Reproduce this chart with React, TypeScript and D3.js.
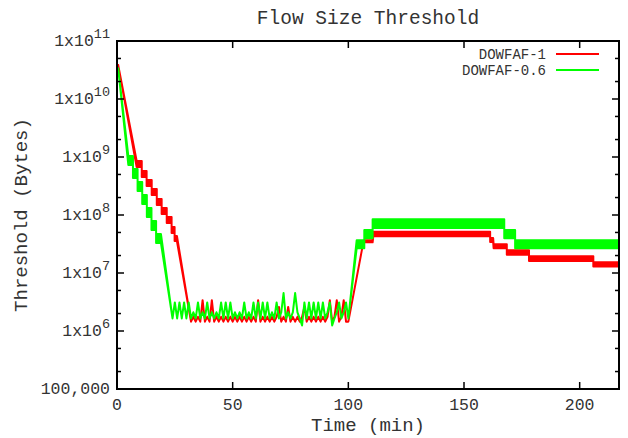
import React from 'react';
import * as d3 from 'd3';

// [minute, low, high] - low == high for plain line points,
// low < high where the threshold flickers fast enough to draw a solid band
type Sample = [number, number, number];

const xTicks = [0, 50, 100, 150, 200];
const yDecades = [1e5, 1e6, 1e7, 1e8, 1e9, 1e10, 1e11];
const yMinorFactors = [2, 5];
const seriesNames = ['DOWFAF-1', 'DOWFAF-0.6'];
const seriesColors = ['#ff0000', '#00ff00'];

// DOWFAF-1 (red)
const redDescent: Sample[] = [
  [0.5, 3.85e10, 3.85e10],
  [8.5, 6.73e8, 8.53e8], [10.7, 6.73e8, 8.53e8],
  [10.7, 4.52e8, 5.74e8], [12.8, 4.52e8, 5.74e8],
  [12.8, 3.16e8, 4.0e8], [15.0, 3.16e8, 4.0e8],
  [15.0, 2.21e8, 2.8e8], [17.2, 2.21e8, 2.8e8],
  [17.2, 1.49e8, 1.89e8], [19.3, 1.49e8, 1.89e8],
  [19.3, 1.04e8, 1.32e8], [21.5, 1.04e8, 1.32e8],
  [21.5, 7.3e7, 9.2e7], [23.6, 7.3e7, 9.2e7],
  [23.6, 4.9e7, 6.2e7], [24.9, 4.9e7, 6.2e7],
  [24.9, 3.56e7, 4.35e7], [25.9, 3.56e7, 4.35e7],
];
const redNoiseStart = 32;
const redNoise = [
  1.45e6, 1.75e6, 1.45e6, 1.75e6, 1.45e6, 3.4e6, 1.45e6, 1.75e6, 1.45e6, 3.4e6,
  1.45e6, 1.75e6, 1.45e6, 1.75e6, 1.45e6, 1.75e6, 1.45e6, 1.75e6, 1.45e6, 1.75e6,
  1.45e6, 1.75e6, 1.45e6, 1.75e6, 1.45e6, 1.75e6, 1.45e6, 1.75e6, 1.45e6, 3.4e6,
  1.45e6, 1.75e6, 1.45e6, 1.75e6, 1.45e6, 1.75e6, 1.45e6, 1.75e6, 2.6e6, 1.45e6,
  1.75e6, 1.45e6, 2.6e6, 1.45e6, 1.75e6, 1.45e6, 1.75e6, 1.45e6, 1.75e6, 2.6e6,
  1.45e6, 1.75e6, 1.45e6, 1.75e6, 1.45e6, 1.75e6, 1.45e6, 1.75e6, 1.45e6, 1.75e6,
  3.4e6, 1.45e6, 1.75e6, 3.4e6, 1.45e6, 1.75e6, 3.4e6, 1.45e6, 1.45e6,
];
const redPlateau: Sample[] = [
  [106.5, 3.4e7, 3.4e7],
  [107.2, 3.38e7, 3.66e7], [110.5, 3.38e7, 3.66e7],
  [110.8, 4.3e7, 5.15e7], [161.3, 4.3e7, 5.15e7],
  [161.3, 3.42e7, 4.0e7], [162.6, 3.42e7, 4.0e7],
  [162.8, 2.67e7, 3.13e7], [168.5, 2.67e7, 3.13e7],
  [168.5, 2.07e7, 2.46e7], [178.1, 2.07e7, 2.46e7],
  [178.1, 1.61e7, 1.95e7], [205.9, 1.61e7, 1.95e7],
  [205.9, 1.29e7, 1.53e7], [216.7, 1.29e7, 1.53e7],
];

// DOWFAF-0.6 (green)
const greenDescent: Sample[] = [
  [0.5, 3.4e10, 3.4e10],
  [4.9, 7.28e8, 1.04e9], [6.9, 7.28e8, 1.04e9],
  [6.9, 4.35e8, 6.21e8], [8.9, 4.35e8, 6.21e8],
  [8.9, 2.59e8, 3.71e8], [10.9, 2.59e8, 3.71e8],
  [10.9, 1.55e8, 2.21e8], [12.9, 1.55e8, 2.21e8],
  [12.9, 9.2e7, 1.32e8], [14.9, 9.2e7, 1.32e8],
  [14.9, 5.5e7, 7.9e7], [16.9, 5.5e7, 7.9e7],
  [16.9, 3.29e7, 4.7e7], [19.0, 3.29e7, 4.7e7],
];
const greenNoiseStart = 24;
const greenNoise = [
  1.65e6, 3.1e6, 1.65e6, 3.1e6, 1.65e6, 3.1e6, 1.65e6, 3.1e6, 1.65e6, 2.1e6,
  1.65e6, 3.1e6, 1.65e6, 2.1e6, 1.65e6, 3.1e6, 1.65e6, 2.1e6, 1.65e6, 2.1e6,
  1.65e6, 3.1e6, 1.65e6, 3.1e6, 1.65e6, 3.1e6, 1.65e6, 2.1e6, 1.65e6, 2.1e6,
  1.65e6, 3.1e6, 1.65e6, 2.1e6, 1.65e6, 3.1e6, 1.65e6, 3.1e6, 1.65e6, 3.1e6,
  1.65e6, 3.1e6, 1.65e6, 2.1e6, 1.65e6, 3.1e6, 1.65e6, 2.1e6, 4.5e6, 1.65e6,
  2.1e6, 1.65e6, 2.1e6, 4.5e6, 2.1e6, 1.65e6, 1.25e6, 3.1e6, 1.65e6, 3.1e6,
  1.65e6, 3.1e6, 1.65e6, 3.1e6, 1.65e6, 3.1e6, 1.65e6, 2.1e6, 3.1e6, 1.25e6,
  1.65e6, 2.1e6, 3.1e6, 1.65e6, 2.1e6, 3.1e6, 1.65e6,
];
const greenPlateau: Sample[] = [
  [103.6, 2.67e7, 3.66e7], [106.9, 2.67e7, 3.66e7],
  [106.9, 3.96e7, 5.5e7], [110.5, 3.96e7, 5.5e7],
  [110.5, 5.97e7, 8.43e7], [167.4, 5.97e7, 8.43e7],
  [167.4, 3.96e7, 5.5e7], [172.1, 3.96e7, 5.5e7],
  [172.1, 2.67e7, 3.66e7], [216.7, 2.67e7, 3.66e7],
];

const build = (descent: Sample[], start: number, noise: number[], plateau: Sample[]): Sample[] => [
  ...descent,
  ...noise.map((v, i): Sample => [start + i, v, v]),
  ...plateau,
];

const series = [
  build(redDescent, redNoiseStart, redNoise, redPlateau),
  build(greenDescent, greenNoiseStart, greenNoise, greenPlateau),
];

const W = 628;
const H = 438;
const left = 117;
const right = 619;
const top = 41;
const bottom = 389;
const font = '"Liberation Mono", "Courier New", monospace';
const ink = '#333';

export default function App() {
  const x = d3.scaleLinear().domain([0, 217]).range([left, right]);
  const y = d3.scaleLog().domain([1e5, 1e11]).range([bottom, top]);

  const area = d3
    .area<Sample>()
    .x(d => x(d[0]))
    .y0(d => y(d[1]))
    .y1(d => y(d[2]));

  const minor = yDecades.slice(0, -1).flatMap(d => yMinorFactors.map(f => d * f));

  return (
    <svg width={W} height={H} style={{ position: 'absolute', left: 0, top: 0, background: '#fff' }}>
      <rect x={0} y={0} width={W} height={H} fill="#fff" />

      {/* data */}
      {series.map((s, i) => (
        <path
          key={seriesNames[i]}
          d={area(s) ?? ''}
          fill={seriesColors[i]}
          stroke={seriesColors[i]}
          strokeWidth={2}
          strokeLinejoin="round"
        />
      ))}

      {/* ticks */}
      {xTicks.map(t => (
        <g key={'x' + t} stroke="#000" strokeWidth={1.5}>
          <line x1={x(t)} x2={x(t)} y1={bottom} y2={bottom - 7} />
          <line x1={x(t)} x2={x(t)} y1={top} y2={top + 7} />
        </g>
      ))}
      {yDecades.map(v => (
        <g key={'y' + v} stroke="#000" strokeWidth={1.5}>
          <line x1={left} x2={left + 7} y1={y(v)} y2={y(v)} />
          <line x1={right} x2={right - 7} y1={y(v)} y2={y(v)} />
        </g>
      ))}
      {minor.map(v => (
        <g key={'m' + v} stroke="#000" strokeWidth={1.5}>
          <line x1={left} x2={left + 4} y1={y(v)} y2={y(v)} />
          <line x1={right} x2={right - 4} y1={y(v)} y2={y(v)} />
        </g>
      ))}

      <rect x={left} y={top} width={right - left} height={bottom - top} fill="none" stroke="#000" strokeWidth={2} />

      {/* tick labels */}
      {xTicks.map(t => (
        <text key={'xl' + t} x={x(t)} y={410} textAnchor="middle" fontFamily={font} fontSize={16.5} fill={ink}>
          {t}
        </text>
      ))}
      {yDecades.map(v => {
        const e = Math.round(Math.log10(v));
        return (
          <text key={'yl' + v} x={110} y={y(v) + 5} textAnchor="end" fontFamily={font} fontSize={16.5} fill={ink}>
            {e === 5 ? (
              d3.format(',')(v)
            ) : (
              <>
                <tspan>1x10</tspan>
                <tspan dy={-8} fontSize={13.5}>{e}</tspan>
              </>
            )}
          </text>
        );
      })}

      {/* titles */}
      <text x={368} y={24} textAnchor="middle" fontFamily={font} fontSize={19.5} fill={ink}>
        Flow Size Threshold
      </text>
      <text x={368} y={431} textAnchor="middle" fontFamily={font} fontSize={19} fill={ink}>
        Time (min)
      </text>
      <text transform="translate(27,215) rotate(-90)" textAnchor="middle" fontFamily={font} fontSize={19} fill={ink}>
        Threshold (Bytes)
      </text>

      {/* legend */}
      {seriesNames.map((n, i) => (
        <g key={'lg' + n}>
          <text x={546} y={59 + i * 16} textAnchor="end" fontFamily={font} fontSize={14} fill={ink}>
            {n}
          </text>
          <line x1={556} x2={599} y1={54 + i * 16} y2={54 + i * 16} stroke={seriesColors[i]} strokeWidth={2} />
        </g>
      ))}
    </svg>
  );
}
